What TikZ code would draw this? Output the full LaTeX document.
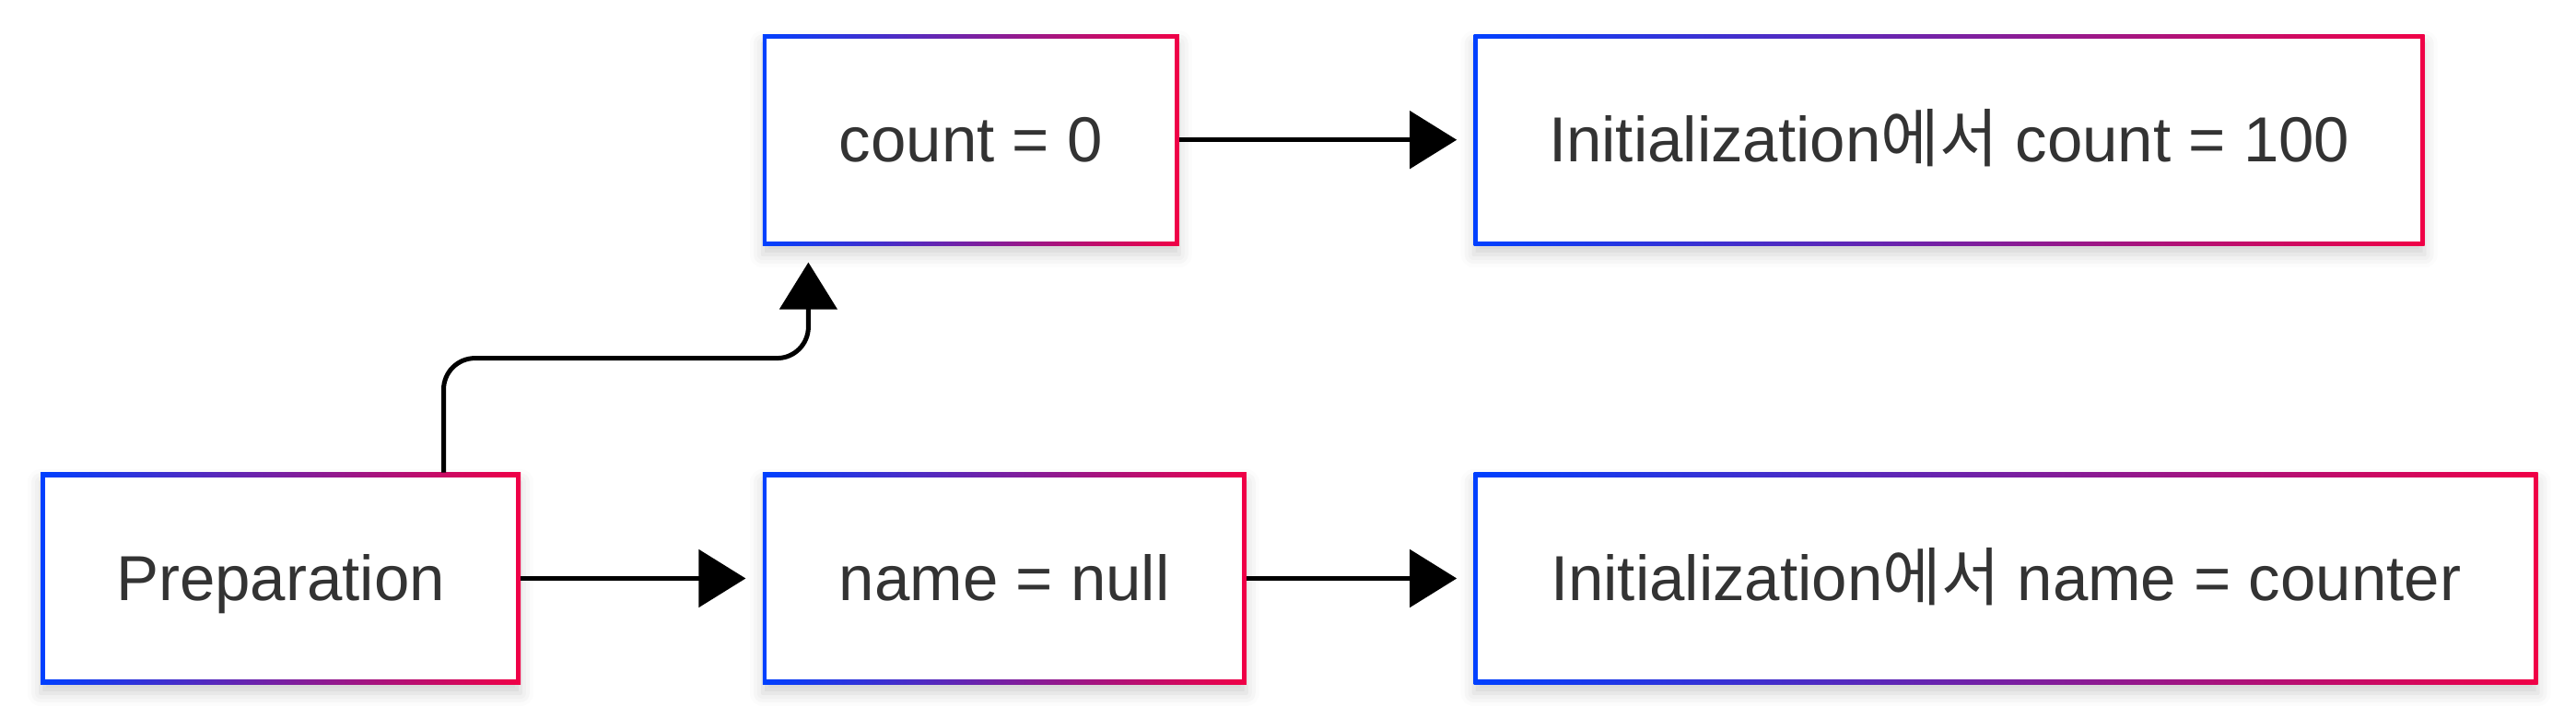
\documentclass[tikz,border=0pt]{standalone}
\usepackage{fontspec}
\setmainfont{Liberation Sans}
\newfontfamily\kor{Noto Sans CJK KR}
\usepackage{tikz}
\usetikzlibrary{arrows.meta,positioning,shadows.blur}
\definecolor{edgeblue}{RGB}{0,64,255}
\definecolor{edgered}{RGB}{240,0,70}
\definecolor{txtgray}{RGB}{51,51,51}
\tikzset{
  post/.style={-{Triangle[length=25.5pt,width=31pt]},shorten >=9pt,line width=2.5pt},
}
\begin{document}
\begin{tikzpicture}[
        stepbox/.style={rectangle, inner sep=0pt, minimum height=114.5pt,
        left color=edgeblue, right color=edgered,
        text=txtgray, font={\fontsize{34.5}{41}\selectfont},
        text height=30pt, text depth=6.5pt,
        blur shadow={shadow xshift=0pt, shadow yshift=-5pt, shadow blur radius=7pt, shadow opacity=18},
        path picture={\fill[white] ([shift={(2.3pt,-2.3pt)}]path picture bounding box.north west)
          rectangle ([shift={(-2.3pt,2.3pt)}]path picture bounding box.south east);}},
        node distance=123pt
        ]
        \useasboundingbox (0,0) rectangle (1398pt,-390pt);

        \node[stepbox, minimum width=260.5pt] (prep) at (152.25pt,-313.75pt) {Preparation};
        \node[stepbox, minimum width=262.5pt, right=131pt of prep] (name) {name = null};
        \node[stepbox, minimum width=226pt, above=123pt of name.north west, anchor=south west] (cnt) {count = 0};
        \node[stepbox, minimum width=577.5pt, right=of name] (initname) {Initialization{\kor 에서} name = counter};
        \node[stepbox, minimum width=516pt, above=123pt of initname.north west, anchor=south west] (initcnt) {Initialization{\kor 에서} count = 100};

        \draw[post] (prep) -- (name);
        \draw[post] (name) -- (initname);
        \draw[post] (cnt) -- (initcnt);
        \draw[post, rounded corners=17pt] ([xshift=88.5pt]prep.north) -- ++(0,62pt) -| ([xshift=25pt]cnt.south west);

      \end{tikzpicture}
\end{document}
